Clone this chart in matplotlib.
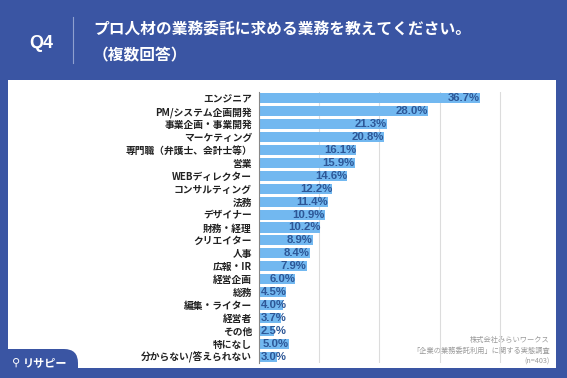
import matplotlib
matplotlib.use("Agg")
import matplotlib.pyplot as plt
from matplotlib.patches import FancyBboxPatch, Rectangle
import numpy as np

plt.rcParams['font.family'] = ['Noto Sans CJK JP', 'DejaVu Sans']

categories = ["エンジニア", "PM/システム企画開発", "事業企画・事業開発", "マーケティング",
              "専門職（弁護士、会計士等）", "営業", "WEBディレクター", "コンサルティング",
              "法務", "デザイナー", "財務・経理", "クリエイター", "人事", "広報・IR",
              "経営企画", "総務", "編集・ライター", "経営者", "その他", "特になし",
              "分からない/答えられない"]
values = [36.7, 28.0, 21.3, 20.8, 16.1, 15.9, 14.6, 12.2, 11.4, 10.9, 10.2,
          8.9, 8.4, 7.9, 6.0, 4.5, 4.0, 3.7, 2.5, 5.0, 3.0]
title_lines = ["プロ人材の業務委託に求める業務を教えてください。", "（複数回答）"]
source_lines = ["株式会社みらいワークス", "「企業の業務委託利用」に関する実態調査", "(n=403)"]

BLUE = "#3a55a3"
BAR = "#72b8f0"
LABEL = "#2d5797"

W, H = 567, 378
fig = plt.figure(figsize=(W / 100, H / 100), dpi=100)
fig.patch.set_facecolor(BLUE)

# white panel
bg = fig.add_axes([0, 0, 1, 1])
bg.set_xlim(0, W)
bg.set_ylim(H, 0)
bg.axis("off")
bg.add_patch(Rectangle((8, 80), 548, 288, facecolor="white", edgecolor="none"))
# logo tab
bg.add_patch(FancyBboxPatch((-20, 349), 98, 60, boxstyle="round,pad=0,rounding_size=14",
                            facecolor=BLUE, edgecolor="none"))
bg.text(41, 43, "Q4", color="white", fontsize=13, fontweight="bold",
        ha="center", va="center", family=["Liberation Sans"])
bg.plot([73, 73], [17, 63], color="#8fa0cf", lw=0.8)
bg.text(93, 30, title_lines[0], color="white", fontsize=11.3, fontweight="bold",
        ha="left", va="center")
bg.text(93, 55, title_lines[1], color="white", fontsize=11.3, fontweight="bold",
        ha="left", va="center")
bg.text(12, 363, "⚲", color="white", fontsize=8, ha="left", va="center",
        family=["DejaVu Sans"])
bg.text(23, 363, "リサピー", color="white", fontsize=8, fontweight="bold",
        ha="left", va="center")
for i, s in enumerate(source_lines):
    bg.text(550, 340 + 11 * i, s, color="#9a9a9a", fontsize=5.2,
            ha="right", va="center")

# chart
x0, x1 = 259, 554
y0, y1 = 92, 363
ax = fig.add_axes([x0 / W, 1 - y1 / H, (x1 - x0) / W, (y1 - y0) / H])
ax.patch.set_alpha(0)
y = np.arange(len(categories))
ax.barh(y, values, height=0.78, color=BAR, zorder=2)
ax.set_ylim(len(categories) - 0.5, -0.5)
ax.set_xlim(0, 49)
ax.set_xticks([10, 20, 30, 40])
ax.xaxis.grid(True, color="#dcdcdc", lw=0.8, zorder=0)
ax.tick_params(axis="x", length=0, labelbottom=False)
ax.tick_params(axis="y", length=0, pad=5)
ax.set_yticks(y)
ax.set_yticklabels(categories, fontsize=7, fontweight="bold", color="#222222")
for s in ["top", "right", "bottom"]:
    ax.spines[s].set_visible(False)
ax.spines["left"].set_color("#888888")
ax.spines["left"].set_linewidth(0.8)
for yi, v in zip(y, values):
    ax.text(max(v, 4.55), yi, f"{v:.1f}%", color=LABEL, fontsize=8.2,
            fontweight="bold", ha="right", va="center", zorder=3,
            family=["Liberation Sans"])

fig.savefig("out.png", dpi=100, facecolor=BLUE)
